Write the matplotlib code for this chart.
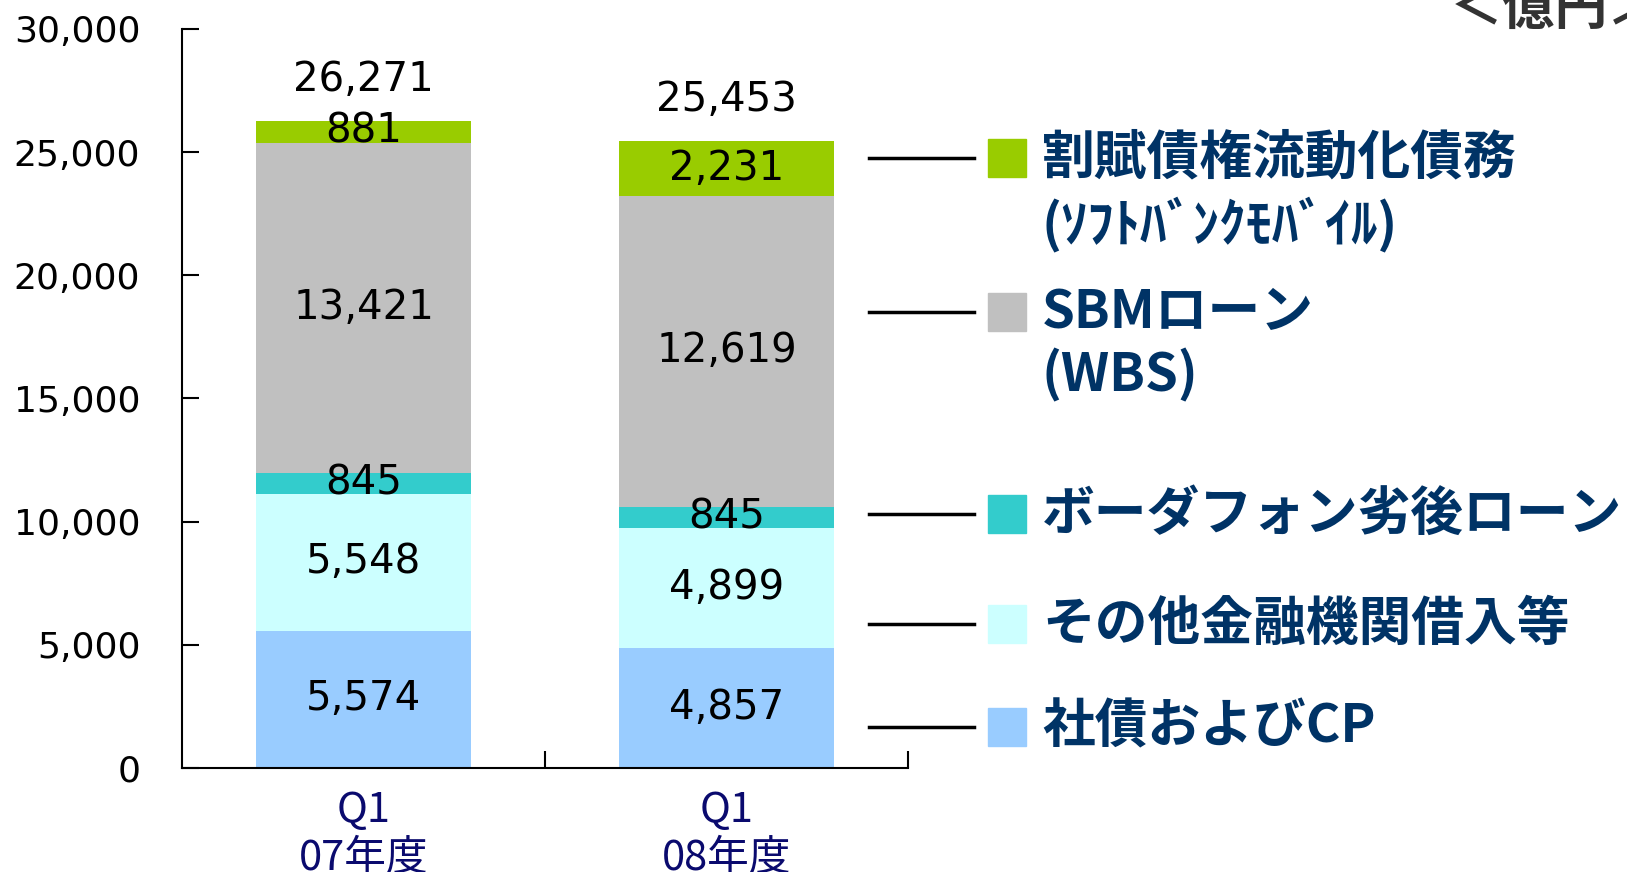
import matplotlib
matplotlib.use('Agg')
import matplotlib.pyplot as plt
import numpy as np

plt.rcParams['font.family'] = ['Noto Sans CJK JP', 'DejaVu Sans']

# データ（億円）
periods = ['Q1\n07年度', 'Q1\n08年度']
series_names = ['社債およびCP', 'その他金融機関借入等', 'ボーダフォン劣後ローン',
                'SBMローン\n(WBS)', '割賦債権流動化債務\n(ｿﾌﾄﾊﾞﾝｸﾓﾊﾞｲﾙ)']
bonds_cp = [5574, 4857]
other_loans = [5548, 4899]
vodafone_sub = [845, 845]
sbm_loan = [13421, 12619]
installment = [881, 2231]
totals = [26271, 25453]

colors = ['#99CCFF', '#CCFFFF', '#33CCCC', '#C0C0C0', '#99CC00']
navy = '#003366'

fig = plt.figure(figsize=(16.27, 8.72), dpi=100)
ax = fig.add_axes([182 / 1627, 104 / 872, 726 / 1627, 739 / 872])

x = np.arange(len(periods))
stack = [bonds_cp, other_loans, vodafone_sub, sbm_loan, installment]
bottom = np.zeros(len(periods))
for vals, c in zip(stack, colors):
    vals = np.array(vals)
    ax.bar(x, vals, width=0.59, bottom=bottom, color=c, edgecolor='none')
    for xi, b, v in zip(x, bottom, vals):
        ax.text(xi, b + v / 2, f'{v:,}', ha='center', va='center',
                fontsize=29, family='DejaVu Sans', color='black')
    bottom += vals

for xi, b, t in zip(x, bottom, totals):
    ax.annotate(f'{t:,}', (xi, b), xytext=(0, 15), textcoords='offset points',
                ha='center', va='bottom', fontsize=29, family='DejaVu Sans')

ax.set_xlim(-0.5, 1.5)
ax.set_ylim(0, 30000)
ax.set_yticks(np.arange(0, 30001, 5000))
ax.set_yticklabels([f'{v:,}' for v in range(0, 30001, 5000)], family='DejaVu Sans')
ax.tick_params(axis='y', direction='in', length=12, width=1.5, pad=30, labelsize=26)
ax.set_xticks(x)
ax.set_xticklabels(periods, color='#0a0a6e', fontsize=30, linespacing=1.19)
ax.tick_params(axis='x', length=0, pad=16)
ax.set_xticks([0.5, 1.5], minor=True)
ax.tick_params(axis='x', which='minor', direction='in', length=12, width=1.5)
for s in ['top', 'right']:
    ax.spines[s].set_visible(False)
for s in ['left', 'bottom']:
    ax.spines[s].set_linewidth(1.5)

# 右側の凡例（線 + 四角 + 文字）
legend_rows = [158, 312, 514, 624, 727]
text_rows = [(158, 224), (312, 375), (514, None), (624, None), (727, None)]
for i, name in enumerate(reversed(series_names)):
    c = colors[len(colors) - 1 - i]
    yl = 1 - legend_rows[i] / 872
    fig.add_artist(plt.Line2D([869 / 1627, 974 / 1627], [yl, yl], color='black', lw=2.5))
    fig.add_artist(plt.Rectangle((988 / 1627, yl - 19 / 872), 38 / 1627, 38 / 872,
                                 color=c, transform=fig.transFigure))
    lines = name.split('\n')
    for line, yy in zip(lines, text_rows[i]):
        fig.text(1042 / 1627, 1 - yy / 872, line, ha='left', va='center',
                 fontsize=38, fontweight='bold', color=navy)

fig.text(1450 / 1627, 1 - 24 / 872, '＜億円＞', ha='left', va='baseline',
         fontsize=38, fontweight='bold', color='#333333')

fig.savefig('out.png', dpi=100)
